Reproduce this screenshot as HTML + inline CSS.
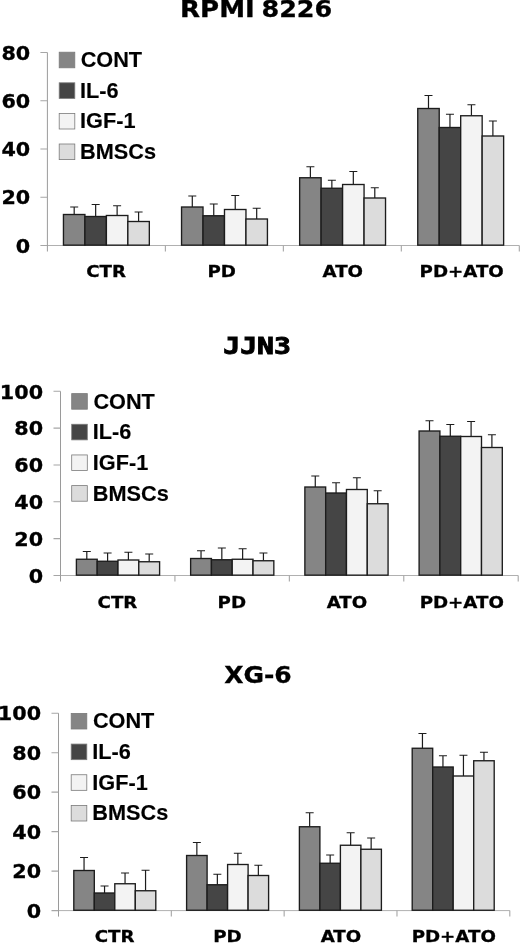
<!DOCTYPE html>
<html lang="en"><head><meta charset="utf-8"><title>Bar charts</title>
<style>
html,body{margin:0;padding:0;background:#fff;}
body{width:520px;height:943px;overflow:hidden;}
svg{display:block;}
.t{font-family:"DejaVu Sans","Liberation Sans",sans-serif;font-weight:bold;fill:#000;}
.l{font-family:"Liberation Sans","DejaVu Sans",sans-serif;font-weight:bold;fill:#000;}
.m{font-family:"DejaVu Sans Mono","Liberation Mono",monospace;font-weight:bold;fill:#000;}
</style></head><body>
<svg width="520" height="943" viewBox="0 0 520 943">
<rect x="0" y="0" width="520" height="943" fill="#fff"/>

<g>
<text class="t" transform="translate(180.04 17.2) scale(1.1674 1)" font-size="22.3" stroke="#000" stroke-width="0.3">RPMI</text>
<text class="t" transform="translate(261.42 17.2) scale(1.1421 1)" font-size="22.3" stroke="#000" stroke-width="0.3">8226</text>
<path d="M47.4 245.5H519.3" fill="none" stroke="#b0b0b0" stroke-width="1"/>
<path d="M47.4 52.5V251.5" fill="none" stroke="#8e8e8e" stroke-width="0.9"/>
<path d="M40.4 52.5H47.4M40.4 100.75H47.4M40.4 149H47.4M40.4 197.25H47.4M40.4 245.5H47.4M165.38 245.5V251.5M283.35 245.5V251.5M401.32 245.5V251.5M519.3 245.5V251.5" fill="none" stroke="#a6a6a6" stroke-width="1.1"/>
<text class="t" transform="translate(1.41 59.61) scale(1.0895 1)" font-size="19" stroke="#000" stroke-width="0.3">80</text>
<text class="t" transform="translate(1.41 107.86) scale(1.0895 1)" font-size="19" stroke="#000" stroke-width="0.3">60</text>
<text class="t" transform="translate(1.41 156.11) scale(1.0895 1)" font-size="19" stroke="#000" stroke-width="0.3">40</text>
<text class="t" transform="translate(1.41 204.36) scale(1.0895 1)" font-size="19" stroke="#000" stroke-width="0.3">20</text>
<text class="t" transform="translate(15.8 252.61) scale(1.0895 1)" font-size="19" stroke="#000" stroke-width="0.3">0</text>
<path d="M74.19 214.5V207M70.19 207H78.19" fill="none" stroke="#1c1c1c" stroke-width="1.2"/>
<rect x="63.45" y="214.5" width="21.47" height="30.65" fill="#858585" stroke="#1c1c1c" stroke-width="1.35"/>
<path d="M95.66 216.5V204.5M91.66 204.5H99.66" fill="none" stroke="#1c1c1c" stroke-width="1.2"/>
<rect x="84.92" y="216.5" width="21.47" height="28.65" fill="#454545" stroke="#1c1c1c" stroke-width="1.35"/>
<path d="M117.12 215.5V205.75M113.12 205.75H121.12" fill="none" stroke="#1c1c1c" stroke-width="1.2"/>
<rect x="106.39" y="215.5" width="21.47" height="29.65" fill="#f3f3f3" stroke="#1c1c1c" stroke-width="1.35"/>
<path d="M138.59 221.5V212M134.59 212H142.59" fill="none" stroke="#1c1c1c" stroke-width="1.2"/>
<rect x="127.86" y="221.5" width="21.47" height="23.65" fill="#dcdcdc" stroke="#1c1c1c" stroke-width="1.35"/>
<path d="M192.29 207V196M188.29 196H196.29" fill="none" stroke="#1c1c1c" stroke-width="1.2"/>
<rect x="181.55" y="207" width="21.47" height="38.15" fill="#858585" stroke="#1c1c1c" stroke-width="1.35"/>
<path d="M213.75 215.75V204M209.75 204H217.75" fill="none" stroke="#1c1c1c" stroke-width="1.2"/>
<rect x="203.02" y="215.75" width="21.47" height="29.4" fill="#454545" stroke="#1c1c1c" stroke-width="1.35"/>
<path d="M235.23 209.5V195.5M231.23 195.5H239.23" fill="none" stroke="#1c1c1c" stroke-width="1.2"/>
<rect x="224.49" y="209.5" width="21.47" height="35.65" fill="#f3f3f3" stroke="#1c1c1c" stroke-width="1.35"/>
<path d="M256.69 219V208.25M252.69 208.25H260.69" fill="none" stroke="#1c1c1c" stroke-width="1.2"/>
<rect x="245.96" y="219" width="21.47" height="26.15" fill="#dcdcdc" stroke="#1c1c1c" stroke-width="1.35"/>
<path d="M310.38 177.75V166.75M306.38 166.75H314.38" fill="none" stroke="#1c1c1c" stroke-width="1.2"/>
<rect x="299.65" y="177.75" width="21.47" height="67.4" fill="#858585" stroke="#1c1c1c" stroke-width="1.35"/>
<path d="M331.86 188.25V180.25M327.86 180.25H335.86" fill="none" stroke="#1c1c1c" stroke-width="1.2"/>
<rect x="321.12" y="188.25" width="21.47" height="56.9" fill="#454545" stroke="#1c1c1c" stroke-width="1.35"/>
<path d="M353.32 184.5V171.5M349.32 171.5H357.32" fill="none" stroke="#1c1c1c" stroke-width="1.2"/>
<rect x="342.59" y="184.5" width="21.47" height="60.65" fill="#f3f3f3" stroke="#1c1c1c" stroke-width="1.35"/>
<path d="M374.79 198V187.75M370.79 187.75H378.79" fill="none" stroke="#1c1c1c" stroke-width="1.2"/>
<rect x="364.06" y="198" width="21.47" height="47.15" fill="#dcdcdc" stroke="#1c1c1c" stroke-width="1.35"/>
<path d="M428.49 108.5V95.5M424.49 95.5H432.49" fill="none" stroke="#1c1c1c" stroke-width="1.2"/>
<rect x="417.75" y="108.5" width="21.47" height="136.65" fill="#858585" stroke="#1c1c1c" stroke-width="1.35"/>
<path d="M449.96 127.5V114.25M445.96 114.25H453.96" fill="none" stroke="#1c1c1c" stroke-width="1.2"/>
<rect x="439.22" y="127.5" width="21.47" height="117.65" fill="#454545" stroke="#1c1c1c" stroke-width="1.35"/>
<path d="M471.43 115.75V104.75M467.43 104.75H475.43" fill="none" stroke="#1c1c1c" stroke-width="1.2"/>
<rect x="460.69" y="115.75" width="21.47" height="129.4" fill="#f3f3f3" stroke="#1c1c1c" stroke-width="1.35"/>
<path d="M492.89 136V121M488.89 121H496.89" fill="none" stroke="#1c1c1c" stroke-width="1.2"/>
<rect x="482.16" y="136" width="21.47" height="109.15" fill="#dcdcdc" stroke="#1c1c1c" stroke-width="1.35"/>
<text class="t" transform="translate(86.23 277) scale(1.1235 1)" font-size="16.2" stroke="#000" stroke-width="0.3">CTR</text>
<text class="t" transform="translate(207.48 277) scale(1.1235 1)" font-size="16.2" stroke="#000" stroke-width="0.3">PD</text>
<text class="t" transform="translate(322.48 277) scale(1.1235 1)" font-size="16.2" stroke="#000" stroke-width="0.3">ATO</text>
<text class="t" transform="translate(419.59 277) scale(1.1235 1)" font-size="16.2" stroke="#000" stroke-width="0.3">PD+ATO</text>
<rect x="59.2" y="52.2" width="15.6" height="15.6" fill="#858585" stroke="#7a7a7a" stroke-width="0.8"/>
<text class="l" transform="translate(80.63 67.2) scale(0.9688 1)" font-size="22.4" stroke="#000" stroke-width="0.15">CONT</text>
<rect x="59.2" y="82.8" width="15.6" height="15.6" fill="#454545" stroke="#7a7a7a" stroke-width="0.8"/>
<text class="l" transform="translate(80.04 97.8) scale(0.9688 1)" font-size="22.4" stroke="#000" stroke-width="0.15">IL-6</text>
<rect x="59.2" y="113.4" width="15.6" height="15.6" fill="#f3f3f3" stroke="#7a7a7a" stroke-width="0.8"/>
<text class="l" transform="translate(80.04 128.4) scale(0.9688 1)" font-size="22.4" stroke="#000" stroke-width="0.15">IGF-1</text>
<rect x="59.2" y="144" width="15.6" height="15.6" fill="#dcdcdc" stroke="#7a7a7a" stroke-width="0.8"/>
<text class="l" transform="translate(80.04 159) scale(0.9688 1)" font-size="22.4" stroke="#000" stroke-width="0.15">BMSCs</text>
</g>
<g>
<text class="m" transform="translate(223.27 354.3) scale(1.2611 1)" font-size="22.3" stroke="#000" stroke-width="0.9">JJN3</text>
<path d="M60.5 575.5H518.2" fill="none" stroke="#b0b0b0" stroke-width="1"/>
<path d="M60.5 391.3V581.5" fill="none" stroke="#8e8e8e" stroke-width="0.9"/>
<path d="M53.5 391.3H60.5M53.5 428.14H60.5M53.5 464.98H60.5M53.5 501.82H60.5M53.5 538.66H60.5M53.5 575.5H60.5M174.93 575.5V581.5M289.35 575.5V581.5M403.78 575.5V581.5M518.2 575.5V581.5" fill="none" stroke="#a6a6a6" stroke-width="1.1"/>
<text class="t" transform="translate(-0.13 398.51) scale(1.0895 1)" font-size="19" stroke="#000" stroke-width="0.3">100</text>
<text class="t" transform="translate(14.31 435.35) scale(1.0895 1)" font-size="19" stroke="#000" stroke-width="0.3">80</text>
<text class="t" transform="translate(14.31 472.19) scale(1.0895 1)" font-size="19" stroke="#000" stroke-width="0.3">60</text>
<text class="t" transform="translate(14.31 509.03) scale(1.0895 1)" font-size="19" stroke="#000" stroke-width="0.3">40</text>
<text class="t" transform="translate(14.31 545.87) scale(1.0895 1)" font-size="19" stroke="#000" stroke-width="0.3">20</text>
<text class="t" transform="translate(28.7 582.71) scale(1.0895 1)" font-size="19" stroke="#000" stroke-width="0.3">0</text>
<path d="M86.8 559.25V551.5M82.8 551.5H90.8" fill="none" stroke="#1c1c1c" stroke-width="1.2"/>
<rect x="76.4" y="559.25" width="20.8" height="15.9" fill="#858585" stroke="#1c1c1c" stroke-width="1.35"/>
<path d="M107.6 561.25V553M103.6 553H111.6" fill="none" stroke="#1c1c1c" stroke-width="1.2"/>
<rect x="97.2" y="561.25" width="20.8" height="13.9" fill="#454545" stroke="#1c1c1c" stroke-width="1.35"/>
<path d="M128.4 560V552.25M124.4 552.25H132.4" fill="none" stroke="#1c1c1c" stroke-width="1.2"/>
<rect x="118" y="560" width="20.8" height="15.15" fill="#f3f3f3" stroke="#1c1c1c" stroke-width="1.35"/>
<path d="M149.2 561.75V554M145.2 554H153.2" fill="none" stroke="#1c1c1c" stroke-width="1.2"/>
<rect x="138.8" y="561.75" width="20.8" height="13.4" fill="#dcdcdc" stroke="#1c1c1c" stroke-width="1.35"/>
<path d="M201.03 558.5V550.75M197.03 550.75H205.03" fill="none" stroke="#1c1c1c" stroke-width="1.2"/>
<rect x="190.63" y="558.5" width="20.8" height="16.65" fill="#858585" stroke="#1c1c1c" stroke-width="1.35"/>
<path d="M221.83 559.75V548M217.83 548H225.83" fill="none" stroke="#1c1c1c" stroke-width="1.2"/>
<rect x="211.43" y="559.75" width="20.8" height="15.4" fill="#454545" stroke="#1c1c1c" stroke-width="1.35"/>
<path d="M242.63 559.25V548.75M238.63 548.75H246.63" fill="none" stroke="#1c1c1c" stroke-width="1.2"/>
<rect x="232.23" y="559.25" width="20.8" height="15.9" fill="#f3f3f3" stroke="#1c1c1c" stroke-width="1.35"/>
<path d="M263.43 560.75V553M259.43 553H267.43" fill="none" stroke="#1c1c1c" stroke-width="1.2"/>
<rect x="253.03" y="560.75" width="20.8" height="14.4" fill="#dcdcdc" stroke="#1c1c1c" stroke-width="1.35"/>
<path d="M315.27 487V476M311.27 476H319.27" fill="none" stroke="#1c1c1c" stroke-width="1.2"/>
<rect x="304.87" y="487" width="20.8" height="88.15" fill="#858585" stroke="#1c1c1c" stroke-width="1.35"/>
<path d="M336.07 493V482.75M332.07 482.75H340.07" fill="none" stroke="#1c1c1c" stroke-width="1.2"/>
<rect x="325.67" y="493" width="20.8" height="82.15" fill="#454545" stroke="#1c1c1c" stroke-width="1.35"/>
<path d="M356.87 489.5V477.75M352.87 477.75H360.87" fill="none" stroke="#1c1c1c" stroke-width="1.2"/>
<rect x="346.47" y="489.5" width="20.8" height="85.65" fill="#f3f3f3" stroke="#1c1c1c" stroke-width="1.35"/>
<path d="M377.67 503.75V490.75M373.67 490.75H381.67" fill="none" stroke="#1c1c1c" stroke-width="1.2"/>
<rect x="367.27" y="503.75" width="20.8" height="71.4" fill="#dcdcdc" stroke="#1c1c1c" stroke-width="1.35"/>
<path d="M429.5 431V420.75M425.5 420.75H433.5" fill="none" stroke="#1c1c1c" stroke-width="1.2"/>
<rect x="419.1" y="431" width="20.8" height="144.15" fill="#858585" stroke="#1c1c1c" stroke-width="1.35"/>
<path d="M450.3 436.25V424.5M446.3 424.5H454.3" fill="none" stroke="#1c1c1c" stroke-width="1.2"/>
<rect x="439.9" y="436.25" width="20.8" height="138.9" fill="#454545" stroke="#1c1c1c" stroke-width="1.35"/>
<path d="M471.1 436.5V421.5M467.1 421.5H475.1" fill="none" stroke="#1c1c1c" stroke-width="1.2"/>
<rect x="460.7" y="436.5" width="20.8" height="138.65" fill="#f3f3f3" stroke="#1c1c1c" stroke-width="1.35"/>
<path d="M491.9 447.5V434.75M487.9 434.75H495.9" fill="none" stroke="#1c1c1c" stroke-width="1.2"/>
<rect x="481.5" y="447.5" width="20.8" height="127.65" fill="#dcdcdc" stroke="#1c1c1c" stroke-width="1.35"/>
<text class="t" transform="translate(97.56 607.7) scale(1.1235 1)" font-size="16.2" stroke="#000" stroke-width="0.3">CTR</text>
<text class="t" transform="translate(217.55 607.7) scale(1.1235 1)" font-size="16.2" stroke="#000" stroke-width="0.3">PD</text>
<text class="t" transform="translate(326.7 607.7) scale(1.1235 1)" font-size="16.2" stroke="#000" stroke-width="0.3">ATO</text>
<text class="t" transform="translate(419.67 607.7) scale(1.1235 1)" font-size="16.2" stroke="#000" stroke-width="0.3">PD+ATO</text>
<rect x="71.7" y="393.6" width="15.6" height="15.6" fill="#858585" stroke="#7a7a7a" stroke-width="0.8"/>
<text class="l" transform="translate(93.38 408.6) scale(0.9688 1)" font-size="22.4" stroke="#000" stroke-width="0.15">CONT</text>
<rect x="71.7" y="424.27" width="15.6" height="15.6" fill="#454545" stroke="#7a7a7a" stroke-width="0.8"/>
<text class="l" transform="translate(92.79 439.27) scale(0.9688 1)" font-size="22.4" stroke="#000" stroke-width="0.15">IL-6</text>
<rect x="71.7" y="454.94" width="15.6" height="15.6" fill="#f3f3f3" stroke="#7a7a7a" stroke-width="0.8"/>
<text class="l" transform="translate(92.79 469.94) scale(0.9688 1)" font-size="22.4" stroke="#000" stroke-width="0.15">IGF-1</text>
<rect x="71.7" y="485.61" width="15.6" height="15.6" fill="#dcdcdc" stroke="#7a7a7a" stroke-width="0.8"/>
<text class="l" transform="translate(92.79 500.61) scale(0.9688 1)" font-size="22.4" stroke="#000" stroke-width="0.15">BMSCs</text>
</g>
<g>
<text class="t" transform="translate(224.15 682.5) scale(1.1219 1)" font-size="22.3" stroke="#000" stroke-width="0.3">XG-6</text>
<path d="M58.5 910.6H509.8" fill="none" stroke="#b0b0b0" stroke-width="1"/>
<path d="M58.5 713.2V916.6" fill="none" stroke="#8e8e8e" stroke-width="0.9"/>
<path d="M51.5 713.2H58.5M51.5 752.68H58.5M51.5 792.16H58.5M51.5 831.64H58.5M51.5 871.12H58.5M51.5 910.6H58.5M171.32 910.6V916.6M284.15 910.6V916.6M396.98 910.6V916.6M509.8 910.6V916.6" fill="none" stroke="#a6a6a6" stroke-width="1.1"/>
<text class="t" transform="translate(-2.13 720.41) scale(1.0895 1)" font-size="19" stroke="#000" stroke-width="0.3">100</text>
<text class="t" transform="translate(12.31 759.89) scale(1.0895 1)" font-size="19" stroke="#000" stroke-width="0.3">80</text>
<text class="t" transform="translate(12.31 799.37) scale(1.0895 1)" font-size="19" stroke="#000" stroke-width="0.3">60</text>
<text class="t" transform="translate(12.31 838.85) scale(1.0895 1)" font-size="19" stroke="#000" stroke-width="0.3">40</text>
<text class="t" transform="translate(12.31 878.33) scale(1.0895 1)" font-size="19" stroke="#000" stroke-width="0.3">20</text>
<text class="t" transform="translate(26.7 917.81) scale(1.0895 1)" font-size="19" stroke="#000" stroke-width="0.3">0</text>
<path d="M84.05 870.5V857.5M80.05 857.5H88.05" fill="none" stroke="#1c1c1c" stroke-width="1.2"/>
<rect x="73.8" y="870.5" width="20.5" height="39.75" fill="#858585" stroke="#1c1c1c" stroke-width="1.35"/>
<path d="M104.55 893V886M100.55 886H108.55" fill="none" stroke="#1c1c1c" stroke-width="1.2"/>
<rect x="94.3" y="893" width="20.5" height="17.25" fill="#454545" stroke="#1c1c1c" stroke-width="1.35"/>
<path d="M125.05 883.75V873M121.05 873H129.05" fill="none" stroke="#1c1c1c" stroke-width="1.2"/>
<rect x="114.8" y="883.75" width="20.5" height="26.5" fill="#f3f3f3" stroke="#1c1c1c" stroke-width="1.35"/>
<path d="M145.55 890.75V870.25M141.55 870.25H149.55" fill="none" stroke="#1c1c1c" stroke-width="1.2"/>
<rect x="135.3" y="890.75" width="20.5" height="19.5" fill="#dcdcdc" stroke="#1c1c1c" stroke-width="1.35"/>
<path d="M196.85 855.5V842.5M192.85 842.5H200.85" fill="none" stroke="#1c1c1c" stroke-width="1.2"/>
<rect x="186.6" y="855.5" width="20.5" height="54.75" fill="#858585" stroke="#1c1c1c" stroke-width="1.35"/>
<path d="M217.35 884.75V874.25M213.35 874.25H221.35" fill="none" stroke="#1c1c1c" stroke-width="1.2"/>
<rect x="207.1" y="884.75" width="20.5" height="25.5" fill="#454545" stroke="#1c1c1c" stroke-width="1.35"/>
<path d="M237.85 864.5V853.25M233.85 853.25H241.85" fill="none" stroke="#1c1c1c" stroke-width="1.2"/>
<rect x="227.6" y="864.5" width="20.5" height="45.75" fill="#f3f3f3" stroke="#1c1c1c" stroke-width="1.35"/>
<path d="M258.35 875.5V865.25M254.35 865.25H262.35" fill="none" stroke="#1c1c1c" stroke-width="1.2"/>
<rect x="248.1" y="875.5" width="20.5" height="34.75" fill="#dcdcdc" stroke="#1c1c1c" stroke-width="1.35"/>
<path d="M309.65 826.75V812.75M305.65 812.75H313.65" fill="none" stroke="#1c1c1c" stroke-width="1.2"/>
<rect x="299.4" y="826.75" width="20.5" height="83.5" fill="#858585" stroke="#1c1c1c" stroke-width="1.35"/>
<path d="M330.15 863.25V855M326.15 855H334.15" fill="none" stroke="#1c1c1c" stroke-width="1.2"/>
<rect x="319.9" y="863.25" width="20.5" height="47" fill="#454545" stroke="#1c1c1c" stroke-width="1.35"/>
<path d="M350.65 845.25V832.75M346.65 832.75H354.65" fill="none" stroke="#1c1c1c" stroke-width="1.2"/>
<rect x="340.4" y="845.25" width="20.5" height="65" fill="#f3f3f3" stroke="#1c1c1c" stroke-width="1.35"/>
<path d="M371.15 849.25V838M367.15 838H375.15" fill="none" stroke="#1c1c1c" stroke-width="1.2"/>
<rect x="360.9" y="849.25" width="20.5" height="61" fill="#dcdcdc" stroke="#1c1c1c" stroke-width="1.35"/>
<path d="M422.45 748.25V733.5M418.45 733.5H426.45" fill="none" stroke="#1c1c1c" stroke-width="1.2"/>
<rect x="412.2" y="748.25" width="20.5" height="162" fill="#858585" stroke="#1c1c1c" stroke-width="1.35"/>
<path d="M442.95 767V755.75M438.95 755.75H446.95" fill="none" stroke="#1c1c1c" stroke-width="1.2"/>
<rect x="432.7" y="767" width="20.5" height="143.25" fill="#454545" stroke="#1c1c1c" stroke-width="1.35"/>
<path d="M463.45 776V755.25M459.45 755.25H467.45" fill="none" stroke="#1c1c1c" stroke-width="1.2"/>
<rect x="453.2" y="776" width="20.5" height="134.25" fill="#f3f3f3" stroke="#1c1c1c" stroke-width="1.35"/>
<path d="M483.95 760.75V752.25M479.95 752.25H487.95" fill="none" stroke="#1c1c1c" stroke-width="1.2"/>
<rect x="473.7" y="760.75" width="20.5" height="149.5" fill="#dcdcdc" stroke="#1c1c1c" stroke-width="1.35"/>
<text class="t" transform="translate(94.76 941.8) scale(1.1235 1)" font-size="16.2" stroke="#000" stroke-width="0.3">CTR</text>
<text class="t" transform="translate(213.15 941.8) scale(1.1235 1)" font-size="16.2" stroke="#000" stroke-width="0.3">PD</text>
<text class="t" transform="translate(320.7 941.8) scale(1.1235 1)" font-size="16.2" stroke="#000" stroke-width="0.3">ATO</text>
<text class="t" transform="translate(411.67 941.8) scale(1.1235 1)" font-size="16.2" stroke="#000" stroke-width="0.3">PD+ATO</text>
<rect x="71.2" y="713.4" width="15.6" height="15.6" fill="#858585" stroke="#7a7a7a" stroke-width="0.8"/>
<text class="l" transform="translate(92.88 728.4) scale(0.9688 1)" font-size="22.4" stroke="#000" stroke-width="0.15">CONT</text>
<rect x="71.2" y="744.07" width="15.6" height="15.6" fill="#454545" stroke="#7a7a7a" stroke-width="0.8"/>
<text class="l" transform="translate(92.29 759.07) scale(0.9688 1)" font-size="22.4" stroke="#000" stroke-width="0.15">IL-6</text>
<rect x="71.2" y="774.74" width="15.6" height="15.6" fill="#f3f3f3" stroke="#7a7a7a" stroke-width="0.8"/>
<text class="l" transform="translate(92.29 789.74) scale(0.9688 1)" font-size="22.4" stroke="#000" stroke-width="0.15">IGF-1</text>
<rect x="71.2" y="805.41" width="15.6" height="15.6" fill="#dcdcdc" stroke="#7a7a7a" stroke-width="0.8"/>
<text class="l" transform="translate(92.29 820.41) scale(0.9688 1)" font-size="22.4" stroke="#000" stroke-width="0.15">BMSCs</text>
</g>
</svg>
</body></html>
